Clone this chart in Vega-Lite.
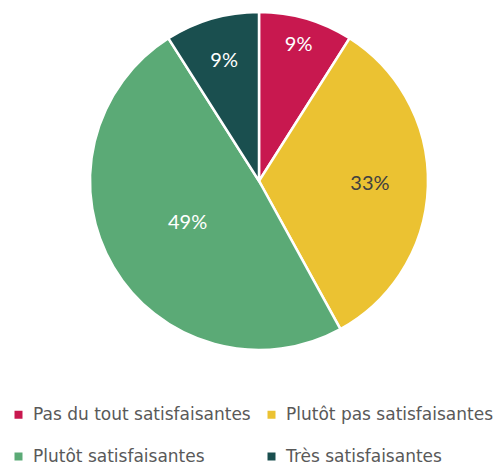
{
  "$schema": "https://vega.github.io/schema/vega-lite/v6.json",
  "autosize": "none",
  "padding": {"left": 0, "top": 0, "right": 0, "bottom": 103},
  "width": 518,
  "height": 362,
  "background": "white",
  "config": {"view": {"stroke": null}, "font": "Lato"},
  "data": {"values": [
    {"category": "Pas du tout satisfaisantes", "value": 9, "label": "9%", "order": 1},
    {"category": "Plutôt pas satisfaisantes", "value": 33, "label": "33%", "order": 2},
    {"category": "Plutôt satisfaisantes", "value": 49, "label": "49%", "order": 3},
    {"category": "Très satisfaisantes", "value": 9, "label": "9%", "order": 4}
  ]},
  "encoding": {
    "theta": {"field": "value", "type": "quantitative", "stack": true},
    "order": {"field": "order", "type": "quantitative"}
  },
  "layer": [
    {
      "mark": {"type": "arc", "outerRadius": 169, "stroke": "white", "strokeWidth": 2.5},
      "encoding": {
        "color": {
          "field": "category", "type": "nominal",
          "scale": {
            "domain": ["Pas du tout satisfaisantes", "Plutôt pas satisfaisantes", "Plutôt satisfaisantes", "Très satisfaisantes"],
            "range": ["#C8184F", "#EBC232", "#5BAA76", "#1A4F4F"]
          },
          "sort": null,
          "legend": {
            "title": null,
            "orient": "none",
            "legendX": 10,
            "legendY": 406,
            "direction": "horizontal",
            "columns": 2,
            "symbolType": "square",
            "symbolSize": 64,
            "symbolStrokeWidth": 0,
            "labelFontSize": 17,
            "labelColor": "#595959",
            "labelFont": "DejaVu Sans",
            "labelLimit": 300,
            "labelOffset": 6,
            "rowPadding": 24,
            "columnPadding": 12,
            "gridAlign": "all"
          }
        }
      }
    },
    {
      "mark": {
        "type": "text", "fontSize": 20, "font": "Lato",
        "radius": {"expr": "datum.category === 'Pas du tout satisfaisantes' ? 142 : datum.category === 'Plutôt pas satisfaisantes' ? 111 : datum.category === 'Plutôt satisfaisantes' ? 83 : 125"}
      },
      "encoding": {
        "text": {"field": "label"},
        "color": {
          "condition": {"test": "datum.category === 'Plutôt pas satisfaisantes'", "value": "#404040"},
          "value": "white"
        }
      }
    }
  ]
}
